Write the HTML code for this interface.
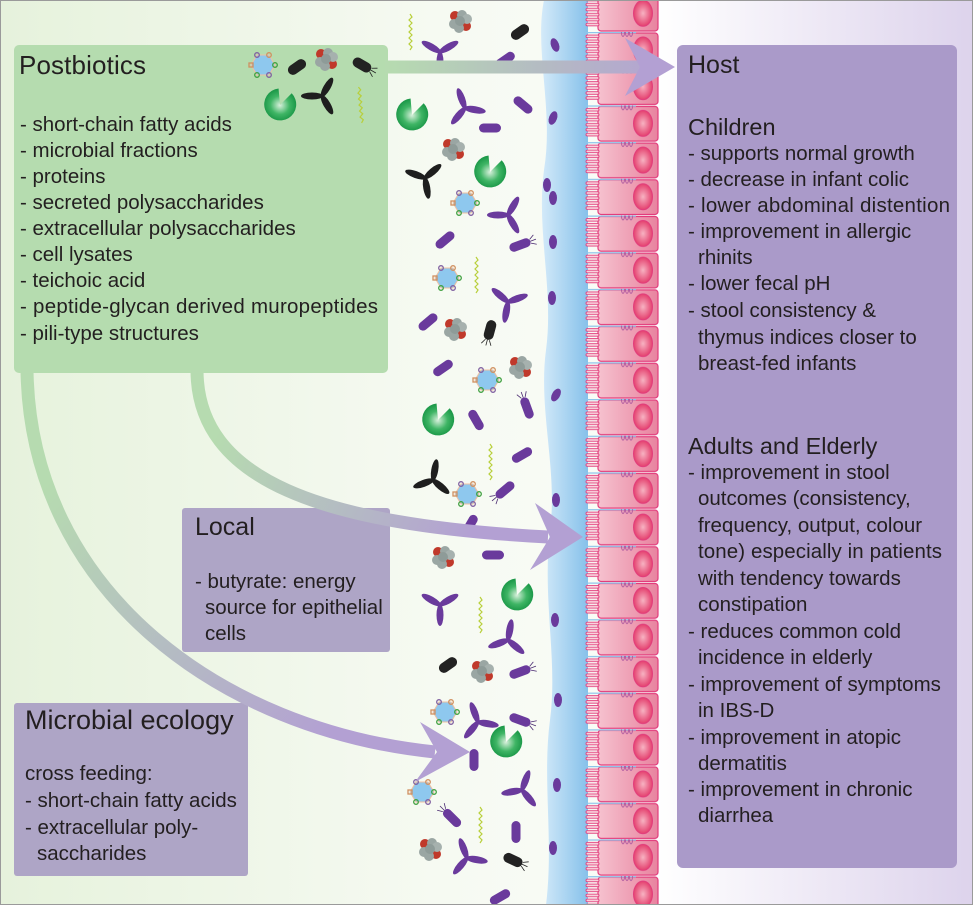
<!DOCTYPE html>
<html><head><meta charset="utf-8"><style>
html,body{margin:0;padding:0;background:#fff}
svg{display:block}
text{font-family:"Liberation Sans",sans-serif;fill:#231f20}
</style></head><body>
<svg width="973" height="905" viewBox="0 0 973 905" xmlns="http://www.w3.org/2000/svg">
<defs>
<linearGradient id="bgL" x1="0" y1="0" x2="1" y2="0"><stop offset="0" stop-color="#e6f2dc"/><stop offset="0.45" stop-color="#f6faf2"/><stop offset="1" stop-color="#ffffff"/></linearGradient>
<linearGradient id="bgR" x1="0" y1="0" x2="1" y2="0"><stop offset="0" stop-color="#ffffff"/><stop offset="1" stop-color="#ddd3ec"/></linearGradient>
<linearGradient id="muc" x1="0" y1="0" x2="1" y2="0"><stop offset="0" stop-color="#d4eaf9"/><stop offset="1" stop-color="#86c1ea"/></linearGradient>
<linearGradient id="cellg" x1="0" y1="0" x2="1" y2="0"><stop offset="0" stop-color="#f6c2cf"/><stop offset="1" stop-color="#e8839f"/></linearGradient>
<radialGradient id="nuc"><stop offset="0" stop-color="#f7b3c2"/><stop offset="1" stop-color="#e4406e"/></radialGradient>
<radialGradient id="grn"><stop offset="0" stop-color="#d8f0dc"/><stop offset="0.6" stop-color="#3fb565"/><stop offset="1" stop-color="#1e9a4a"/></radialGradient>
<linearGradient id="a1" gradientUnits="userSpaceOnUse" x1="388" y1="0" x2="675" y2="0"><stop offset="0" stop-color="#b6dbb0"/><stop offset="1" stop-color="#b3a0d3"/></linearGradient>
<linearGradient id="a2" gradientUnits="userSpaceOnUse" x1="197" y1="373" x2="583" y2="537"><stop offset="0.1" stop-color="#b6dbb0"/><stop offset="0.75" stop-color="#b3a0d3"/></linearGradient>
<linearGradient id="a3" gradientUnits="userSpaceOnUse" x1="27" y1="373" x2="470" y2="752"><stop offset="0.15" stop-color="#b6dbb0"/><stop offset="0.8" stop-color="#b3a0d3"/></linearGradient>
<pattern id="cells" patternUnits="userSpaceOnUse" x="580" y="32" width="80" height="36.7">
 <rect x="18" y="1" width="60" height="34.7" rx="3" fill="url(#cellg)" stroke="#e23c7c" stroke-width="1.2"/>
 <g fill="#f8d3dc" stroke="#e23c7c" stroke-width="0.9">
  <rect x="6" y="3" width="13" height="2.6" rx="1.3"/><rect x="6" y="8" width="13" height="2.6" rx="1.3"/>
  <rect x="6" y="13" width="13" height="2.6" rx="1.3"/><rect x="6" y="18" width="13" height="2.6" rx="1.3"/>
  <rect x="6" y="23" width="13" height="2.6" rx="1.3"/><rect x="6" y="28" width="13" height="2.6" rx="1.3"/>
 </g>
 <ellipse cx="63" cy="18" rx="9.5" ry="13" fill="url(#nuc)" stroke="#e23c7c" stroke-width="1"/>
 <line x1="5" y1="0" x2="56" y2="0" stroke="#8ec5ea" stroke-width="2.5"/>
 <g fill="none" stroke="#b05aa0" stroke-width="0.9"><ellipse cx="43" cy="0" rx="1.6" ry="4.5"/><ellipse cx="47" cy="0" rx="1.6" ry="4.5"/><ellipse cx="51" cy="0" rx="1.6" ry="4.5"/></g>
</pattern>
<g id="rod"><rect x="-11" y="-4.5" width="22" height="9" rx="4.5" fill="#6a3a9c"/></g>
<g id="rodf"><rect x="-11" y="-4.5" width="22" height="9" rx="4.5" fill="#6a3a9c"/><path d="M11,-2 l5,-3 M11,0 l6,0 M11,2 l5,3" stroke="#4a2a70" stroke-width="0.8" fill="none"/></g>
<g id="brod"><rect x="-10" y="-5" width="20" height="10" rx="5" fill="#222"/></g>
<g id="brodf"><rect x="-10" y="-5" width="20" height="10" rx="5" fill="#222"/><path d="M10,-2 l5,-3 M10,0 l6,0 M10,2 l5,3" stroke="#222" stroke-width="0.8" fill="none"/></g>
<g id="Y" fill="#6a3a9c"><ellipse cx="0" cy="-10" rx="3.5" ry="11"/><ellipse cx="0" cy="-10" rx="3.5" ry="11" transform="rotate(120)"/><ellipse cx="0" cy="-10" rx="3.5" ry="11" transform="rotate(240)"/></g>
<g id="bY" fill="#1e1e1e"><ellipse cx="0" cy="-10" rx="3.5" ry="11"/><ellipse cx="0" cy="-10" rx="3.5" ry="11" transform="rotate(120)"/><ellipse cx="0" cy="-10" rx="3.5" ry="11" transform="rotate(240)"/></g>
<g id="blob"><path d="M0,0 L15,-7 A16,16 0 1,0 15,7 Z" fill="url(#grn)"/></g>
<g id="cl"><circle cx="-5" cy="-6" r="5" fill="#c0392b"/><circle cx="6" cy="4" r="5" fill="#c0392b"/><circle cx="-6" cy="2" r="5" fill="#9aa6a3"/><circle cx="2" cy="-7" r="5" fill="#9aa6a3"/><circle cx="7" cy="-3" r="5" fill="#a6b1ae"/><circle cx="-1" cy="6" r="5" fill="#9aa6a3"/><circle cx="0" cy="-1" r="5" fill="#8e9b98"/></g>
<g id="hex"><polygon points="-12,0 -6,-10 6,-10 12,0 6,10 -6,10" fill="#8ec8ee" stroke="#f0c0a0" stroke-width="1"/><g fill="none" stroke-width="1.3"><circle cx="-6" cy="-10" r="2.3" stroke="#8060a0"/><circle cx="6" cy="-10" r="2.3" stroke="#d09060"/><circle cx="12" cy="0" r="2.3" stroke="#40a040"/><circle cx="6" cy="10" r="2.3" stroke="#8060a0"/><circle cx="-6" cy="10" r="2.3" stroke="#40a040"/><rect x="-14" y="-2" width="4" height="4" stroke="#d09060"/></g></g>
<g id="wav"><polyline points="0,-18 2,-15 -1,-12 2,-9 -1,-6 2,-3 -1,0 2,3 -1,6 2,9 -1,12 2,15 0,18" fill="none" stroke="#b8cf3a" stroke-width="1.2"/></g>
</defs>

<rect width="973" height="905" fill="url(#bgL)"/>
<rect x="656" y="0" width="317" height="905" fill="url(#bgR)"/>
<path d="M544,0 C534,50 554,110 544,170 C536,230 554,290 546,350 C538,410 558,470 550,530 C542,600 558,660 550,720 C542,780 554,840 546,905 L588,905 L588,0 Z" fill="url(#muc)"/>
<g fill="#6a3a9c">
<ellipse cx="555" cy="45" rx="4" ry="7" transform="rotate(-20 555 45)"/>
<ellipse cx="553" cy="118" rx="4" ry="7" transform="rotate(20 553 118)"/>
<ellipse cx="547" cy="185" rx="4" ry="7"/><ellipse cx="553" cy="198" rx="4" ry="7"/>
<ellipse cx="553" cy="242" rx="4" ry="7"/>
<ellipse cx="552" cy="298" rx="4" ry="7"/>
<ellipse cx="556" cy="395" rx="4" ry="7" transform="rotate(30 556 395)"/>
<ellipse cx="555" cy="620" rx="4" ry="7"/>
<ellipse cx="556" cy="500" rx="4" ry="7"/>
<ellipse cx="558" cy="700" rx="4" ry="7"/>
<ellipse cx="557" cy="785" rx="4" ry="7"/>
<ellipse cx="553" cy="848" rx="4" ry="7"/>
</g>
<rect x="580" y="0" width="80" height="905" fill="url(#cells)"/>

<use href="#cl" transform="translate(460,22)"/>
<use href="#wav" transform="translate(410,32)"/>
<use href="#Y" transform="translate(440,52) rotate(-60)"/>
<use href="#brod" transform="translate(520,32) rotate(-35)"/>
<use href="#rod" transform="translate(505,60) rotate(-35)"/>
<use href="#blob" transform="translate(412,115) rotate(-70)"/>
<use href="#Y" transform="translate(465,108) rotate(-20)"/>
<use href="#rod" transform="translate(490,128)"/>
<use href="#rod" transform="translate(523,105) rotate(40)"/>
<use href="#cl" transform="translate(453,150)"/>
<use href="#bY" transform="translate(425,178) rotate(50)"/>
<use href="#blob" transform="translate(490,172) rotate(-70)"/>
<use href="#hex" transform="translate(465,203)"/>
<use href="#Y" transform="translate(508,215) rotate(30)"/>
<use href="#rod" transform="translate(445,240) rotate(-40)"/>
<use href="#rodf" transform="translate(520,245) rotate(-20)"/>
<use href="#hex" transform="translate(447,278)"/>
<use href="#wav" transform="translate(476,275)"/>
<use href="#Y" transform="translate(508,302) rotate(70)"/>
<use href="#rod" transform="translate(428,322) rotate(-40)"/>
<use href="#cl" transform="translate(455,330)"/>
<use href="#brodf" transform="translate(490,330) rotate(105)"/>
<use href="#rod" transform="translate(443,368) rotate(-35)"/>
<use href="#hex" transform="translate(487,380)"/>
<use href="#cl" transform="translate(520,368)"/>
<use href="#rodf" transform="translate(527,408) rotate(-110)"/>
<use href="#blob" transform="translate(438,420) rotate(-70)"/>
<use href="#rod" transform="translate(476,420) rotate(60)"/>
<use href="#wav" transform="translate(490,462)"/>
<use href="#rod" transform="translate(522,455) rotate(-30)"/>
<use href="#bY" transform="translate(433,480) rotate(10)"/>
<use href="#hex" transform="translate(467,494)"/>
<use href="#rodf" transform="translate(505,490) rotate(140)"/>
<use href="#rod" transform="translate(470,525) rotate(-60)"/>
<use href="#cl" transform="translate(443,558)"/>
<use href="#rod" transform="translate(493,555)"/>
<use href="#Y" transform="translate(440,605) rotate(60)"/>
<use href="#wav" transform="translate(480,615)"/>
<use href="#blob" transform="translate(517,595) rotate(-70)"/>
<use href="#Y" transform="translate(508,640) rotate(10)"/>
<use href="#brod" transform="translate(448,665) rotate(-35)"/>
<use href="#cl" transform="translate(482,672)"/>
<use href="#rodf" transform="translate(520,672) rotate(-20)"/>
<use href="#hex" transform="translate(445,712)"/>
<use href="#Y" transform="translate(478,722) rotate(-20)"/>
<use href="#rodf" transform="translate(520,720) rotate(20)"/>
<use href="#blob" transform="translate(506,742) rotate(-70)"/>
<use href="#rod" transform="translate(474,760) rotate(90)"/>
<use href="#hex" transform="translate(422,792)"/>
<use href="#rodf" transform="translate(452,818) rotate(-135)"/>
<use href="#wav" transform="translate(480,825)"/>
<use href="#Y" transform="translate(522,790) rotate(20)"/>
<use href="#cl" transform="translate(430,850)"/>
<use href="#Y" transform="translate(467,858) rotate(-20)"/>
<use href="#rod" transform="translate(516,832) rotate(90)"/>
<use href="#brodf" transform="translate(513,860) rotate(25)"/>
<use href="#rod" transform="translate(500,897) rotate(-30)"/>

<rect x="14" y="45" width="374" height="328" rx="5" fill="#b5dcaf"/>
<rect x="677" y="45" width="280" height="823" rx="6" fill="#aa9ac9"/>
<rect x="182" y="508" width="208" height="144" rx="3" fill="#aea5c6"/>
<rect x="14" y="703" width="234" height="173" rx="3" fill="#aea5c6"/>

<use href="#hex" transform="translate(263,65)"/>
<use href="#brod" transform="translate(297,67) rotate(-35)"/>
<use href="#cl" transform="translate(326,60)"/>
<use href="#brodf" transform="translate(362,65) rotate(30)"/>
<use href="#blob" transform="translate(280,105) rotate(-70)"/>
<use href="#bY" transform="translate(322,96) rotate(30)"/>
<use href="#wav" transform="translate(360,105) rotate(-5)"/>

<g fill="none" stroke-width="13">
<line x1="385" y1="67" x2="640" y2="67" stroke="url(#a1)"/>
<path d="M197,370 C197,480 320,525 548,537" stroke="url(#a2)"/>
<path d="M27,370 C30,590 220,730 435,752" stroke="url(#a3)"/>
</g>
<polygon points="675,67 625,38 640,67 625,96" fill="#b3a0d3"/>
<polygon points="583,537 535,503 550,537 530,570" fill="#b3a0d3"/>
<polygon points="470,752 420,722 437,752 415,782" fill="#b3a0d3"/>

<text x="19" y="74" font-size="26" textLength="127">Postbiotics</text>
<g font-size="20.5">
<text x="20" y="131">- short-chain fatty acids</text>
<text x="20" y="157">- microbial fractions</text>
<text x="20" y="183">- proteins</text>
<text x="20" y="209">- secreted polysaccharides</text>
<text x="20" y="235">- extracellular polysaccharides</text>
<text x="20" y="261">- cell lysates</text>
<text x="20" y="287">- teichoic acid</text>
<text x="20" y="313" textLength="358">- peptide-glycan derived muropeptides</text>
<text x="20" y="340">- pili-type structures</text>
</g>
<text x="688" y="73" font-size="25">Host</text>
<text x="688" y="135" font-size="23.5">Children</text>
<g font-size="20.5">
<text x="688" y="160">- supports normal growth</text>
<text x="688" y="186">- decrease in infant colic</text>
<text x="688" y="212" textLength="262">- lower abdominal distention</text>
<text x="688" y="238">- improvement in allergic</text>
<text x="698" y="264">rhinits</text>
<text x="688" y="290">- lower fecal pH</text>
<text x="688" y="317">- stool consistency &amp;</text>
<text x="698" y="344">thymus indices closer to</text>
<text x="698" y="370">breast-fed infants</text>
</g>
<text x="688" y="454" font-size="23.5">Adults and Elderly</text>
<g font-size="20.5">
<text x="688" y="479">- improvement in stool</text>
<text x="698" y="505">outcomes (consistency,</text>
<text x="698" y="532">frequency, output, colour</text>
<text x="698" y="558" textLength="244">tone) especially in patients</text>
<text x="698" y="585">with tendency towards</text>
<text x="698" y="611">constipation</text>
<text x="688" y="638">- reduces common cold</text>
<text x="698" y="664">incidence in elderly</text>
<text x="688" y="691">- improvement of symptoms</text>
<text x="698" y="717">in IBS-D</text>
<text x="688" y="744">- improvement in atopic</text>
<text x="698" y="770">dermatitis</text>
<text x="688" y="796">- improvement in chronic</text>
<text x="698" y="822">diarrhea</text>
</g>
<text x="195" y="535" font-size="25">Local</text>
<g font-size="20.5">
<text x="195" y="588">- butyrate: energy</text>
<text x="205" y="614">source for epithelial</text>
<text x="205" y="640">cells</text>
</g>
<text x="25" y="729" font-size="27">Microbial ecology</text>
<g font-size="20.5">
<text x="25" y="780">cross feeding:</text>
<text x="25" y="807">- short-chain fatty acids</text>
<text x="25" y="834">- extracellular poly-</text>
<text x="37" y="860">saccharides</text>
</g>
<rect x="0.5" y="0.5" width="972" height="904" fill="none" stroke="#9a9a9a" stroke-width="1"/>
</svg>
</body></html>
